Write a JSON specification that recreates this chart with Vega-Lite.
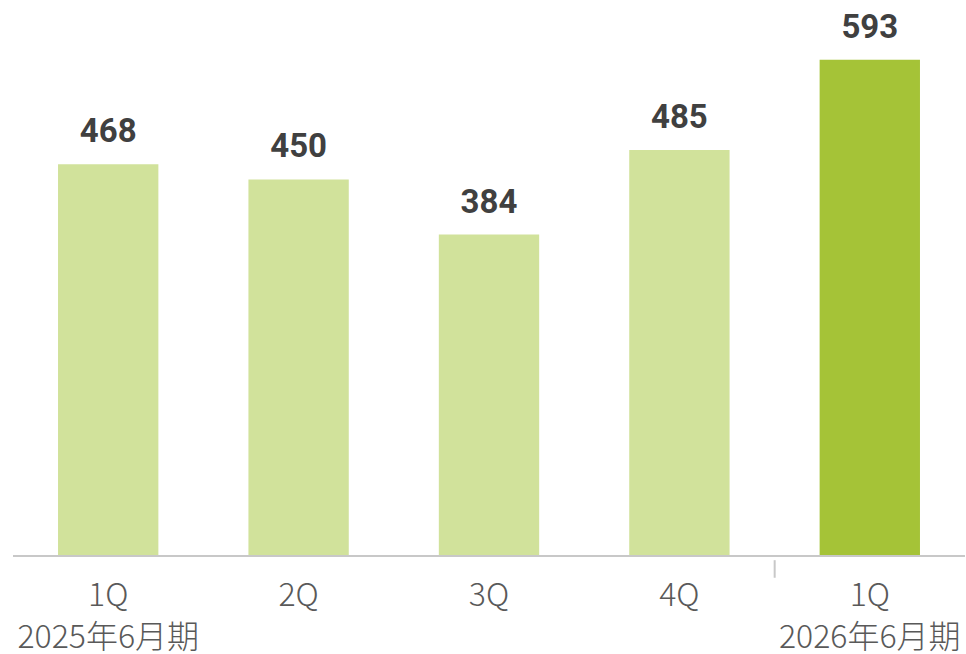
{
  "$schema": "https://vega.github.io/schema/vega-lite/v6.json",
  "width": 952,
  "height": 544,
  "autosize": {"type": "none"},
  "padding": {"left": 13, "top": 12, "right": 1, "bottom": 98},
  "background": "white",
  "config": {"view": {"stroke": null}},
  "data": {
    "values": [
      {"period": "1Q|2025年6月期", "value": 468, "current": "no"},
      {"period": "2Q", "value": 450, "current": "no"},
      {"period": "3Q", "value": 384, "current": "no"},
      {"period": "4Q", "value": 485, "current": "no"},
      {"period": "1Q|2026年6月期", "value": 593, "current": "yes"}
    ]
  },
  "layer": [
    {
      "mark": {"type": "bar"},
      "encoding": {
        "x": {
          "field": "period",
          "type": "nominal",
          "sort": null,
          "scale": {"domain": ["1Q|2025年6月期", "2Q", "3Q", "4Q", "1Q|2026年6月期"], "paddingInner": 0.473, "paddingOuter": 0.2365},
          "axis": {
            "title": null,
            "domain": false,
            "ticks": false,
            "labelExpr": "split(datum.label, '|')",
            "labelAngle": 0,
            "labelFont": "Noto Sans CJK JP",
            "labelFontSize": 32,
            "labelFontWeight": 300,
            "labelColor": "#595959",
            "labelPadding": 24,
            "labelLineHeight": 42,
            "labelLimit": 0,
            "labelOverlap": false,
            "labelBound": false
          }
        },
        "y": {"field": "value", "type": "quantitative", "scale": {"domain": [0, 650], "nice": false}, "axis": null},
        "color": {
          "field": "current",
          "type": "nominal",
          "scale": {"domain": ["no", "yes"], "range": ["#d1e29b", "#a5c337"]},
          "legend": null
        }
      }
    },
    {
      "mark": {"type": "rule", "color": "#c8c8c8", "strokeWidth": 2},
      "encoding": {"y": {"datum": 0, "type": "quantitative"}}
    },
    {
      "data": {"values": [{"period": "1Q|2026年6月期"}]},
      "mark": {"type": "rule", "color": "#c8c8c8", "strokeWidth": 2},
      "encoding": {
        "x": {"field": "period", "type": "nominal", "sort": null, "bandPosition": -0.448},
        "y": {"datum": -5, "type": "quantitative"},
        "y2": {"datum": -26}
      }
    },
    {
      "mark": {"type": "text", "baseline": "alphabetic", "dy": -22, "font": "Roboto", "fontSize": 33, "fontWeight": "bold", "color": "#404040"},
      "encoding": {
        "x": {"field": "period", "type": "nominal", "sort": null},
        "y": {"field": "value", "type": "quantitative"},
        "text": {"field": "value", "type": "quantitative"}
      }
    }
  ]
}
